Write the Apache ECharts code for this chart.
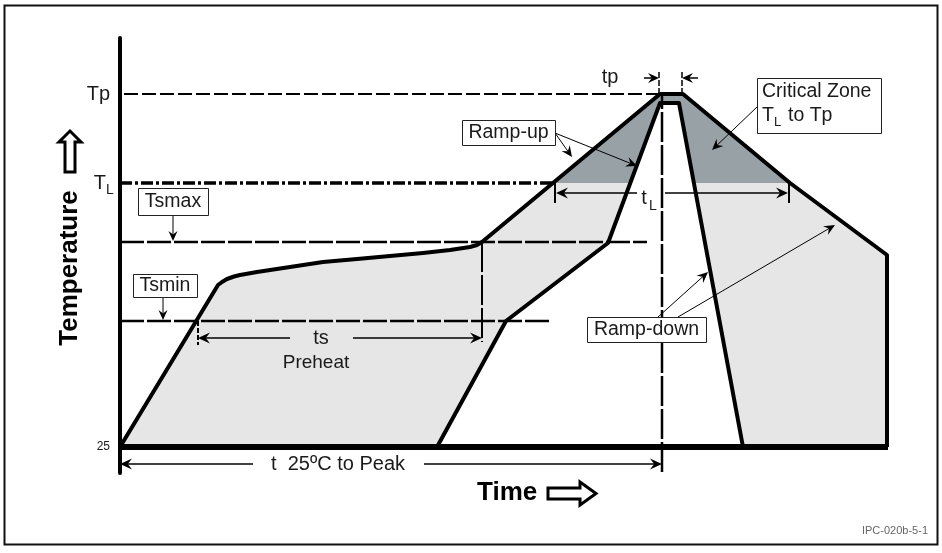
<!DOCTYPE html>
<html><head><meta charset="utf-8">
<script src="https://cdn.jsdelivr.net/npm/echarts@6/dist/echarts.min.js"></script>
<style>html,body{margin:0;padding:0;background:#fff}#c{width:942px;height:553px}</style>
</head><body><div id="c"></div>
<script>
// ---- schematic levels (abstract units; baseline = 25 °C) ----
const LEVEL_BASE = 0, LEVEL_TSMIN = 126, LEVEL_TSMAX = 205, LEVEL_TL = 264, LEVEL_TP = 353;
const levelLabels = ['Tp', 'T', 'L', '25'];

// ---- reflow profiles [time, temperature] ----
const outerProfile = [[0,0],[98,162],[102,165],[107,168],[114,170.5],[120,172],[137,175],[170,180],[203,185],[237,188],[270,191],[303,194],[330,197],[350,200],[357,202],[362,205],[540,353],[563,353],[670,264],[767,192],[767,0]];
const innerProfile = [[317,0],[386,126],[488,204],[540,344],[559,344],[623,0]];

// ---- times ----
const T_PEAK = 542, T_SOAK_START = 78, T_SOAK_END = 362, T_LIQ_START = 435, T_LIQ_END = 669;
const T_TP_START = 539, T_TP_END = 562;

// ---- annotation texts ----
const boxLabels = ['Tsmax', 'Tsmin', 'Ramp-up', 'Ramp-down'];
const criticalLines = ['Critical Zone', 'to Tp'];
const spanLabels = ['ts', 'Preheat', 'tp', 't', 't  25ºC to Peak'];
const axisTitles = ['Temperature', 'Time'];
const footnote = 'IPC-020b-5-1';

const FONT = "'Liberation Sans', Arial, sans-serif";
const LIGHT = '#e6e6e6', DARK = '#98a1a6', INK = '#1a1a1a';

function clipAbove(poly, lv) {
  const out = [];
  for (let i = 0; i < poly.length; i++) {
    const a = poly[i], b = poly[(i + 1) % poly.length];
    const ina = a[1] >= lv, inb = b[1] >= lv;
    if (ina) out.push(a);
    if (ina !== inb) { const t = (lv - a[1]) / (b[1] - a[1]); out.push([a[0] + t * (b[0] - a[0]), lv]); }
  }
  return out;
}

function renderAll(params, api) {
  const c = p => api.coord(p);
  const ch = [];
  const seg = (a, b, st) => { const p = c(a), q = c(b); ch.push({type:'line', shape:{x1:p[0],y1:p[1],x2:q[0],y2:q[1]}, style:Object.assign({stroke:'#000', lineWidth:1}, st)}); };
  const arrow = (a, b, w, head) => {
    const p = c(a), q = c(b);
    const dx = q[0]-p[0], dy = q[1]-p[1], L = Math.hypot(dx, dy), ux = dx/L, uy = dy/L, nx = -uy, ny = ux;
    const bx = q[0]-ux*head, by = q[1]-uy*head;
    ch.push({type:'line', shape:{x1:p[0],y1:p[1],x2:q[0]-ux*head*0.6,y2:q[1]-uy*head*0.6}, style:{stroke:'#000', lineWidth:w}});
    ch.push({type:'polygon', shape:{points:[[q[0],q[1]],[bx+nx*head*0.45,by+ny*head*0.45],[q[0]-ux*head*0.65,q[1]-uy*head*0.65],[bx-nx*head*0.45,by-ny*head*0.45]]}, style:{fill:'#000'}});
  };
  const text = (s, at, size, align, extra) => { const p = c(at); ch.push(Object.assign({type:'text', x:p[0], y:p[1], style:{text:s, fill:INK, font:size+'px '+FONT, align:align||'center', verticalAlign:'middle'}}, extra||{})); };
  const box = (tl, br) => { const p = c(tl), q = c(br); ch.push({type:'rect', shape:{x:Math.round(p[0])+0.5, y:Math.round(p[1])+0.5, width:Math.round(q[0]-p[0]), height:Math.round(q[1]-p[1])}, style:{fill:'#fff', stroke:'#222', lineWidth:1}}); };

  // fills
  ch.push({type:'polygon', shape:{points: outerProfile.map(c)}, style:{fill:LIGHT}});
  ch.push({type:'polygon', shape:{points: clipAbove(outerProfile, LEVEL_TL).map(c)}, style:{fill:DARK}});
  ch.push({type:'polygon', shape:{points: innerProfile.map(c)}, style:{fill:'#fff'}});

  // reference lines
  seg([4, LEVEL_TP], [T_PEAK - 2, LEVEL_TP], {lineWidth:1.8, lineDash:[14,4]});
  seg([0, LEVEL_TL], [433, LEVEL_TL], {lineWidth:3.5, lineDash:[12,3,3,3]});
  seg([0, LEVEL_TSMAX], [527, LEVEL_TSMAX], {lineWidth:2.5, lineDash:[24,3]});
  seg([0, LEVEL_TSMIN], [430, LEVEL_TSMIN], {lineWidth:2.5, lineDash:[24,3]});
  seg([T_PEAK, -25], [T_PEAK, LEVEL_TP], {lineWidth:2.5, lineDash:[30,3]});
  seg([T_SOAK_END, LEVEL_TSMAX], [T_SOAK_END, 105], {lineWidth:2, lineDash:[30,3]});
  seg([T_SOAK_START, LEVEL_TSMIN], [T_SOAK_START, 102], {lineWidth:2, lineDash:[5,2]});
  seg([T_TP_START, LEVEL_TP], [T_TP_START, 377], {lineWidth:1.5, lineDash:[6,2]});
  seg([T_TP_END, LEVEL_TP], [T_TP_END, 377], {lineWidth:1.5, lineDash:[6,2]});
  seg([T_LIQ_START, LEVEL_TL], [T_LIQ_START, 244], {lineWidth:2});
  seg([T_LIQ_END, LEVEL_TL], [T_LIQ_END, 244], {lineWidth:2});

  // profiles
  ch.push({type:'polyline', shape:{points: outerProfile.map(c)}, style:{stroke:'#000', lineWidth:4, fill:null, lineJoin:'round'}});
  ch.push({type:'polyline', shape:{points: innerProfile.map(c)}, style:{stroke:'#000', lineWidth:4, fill:null, lineJoin:'round'}});
  seg([0, LEVEL_BASE], [768, LEVEL_BASE], {lineWidth:6});

  // span arrows
  arrow([170,109], [T_SOAK_START,109], 1.5, 12); arrow([233,109], [T_SOAK_END,109], 1.5, 12);
  arrow([133,-17], [0,-17], 1.5, 12); arrow([304,-17], [T_PEAK,-17], 1.5, 12);
  arrow([517,254], [T_LIQ_START+1,254], 1.5, 12); arrow([545,254], [T_LIQ_END-1,254], 1.5, 12);
  arrow([524,369], [T_TP_START,369], 1.5, 11); arrow([578,369], [T_TP_END,369], 1.5, 11);
  // callout arrows
  arrow([53,232], [53,206], 1, 10); arrow([43,150], [43,127], 1, 10);
  arrow([435,314], [452,290], 1, 11); arrow([435,314], [517,281], 1, 11);
  arrow([637,340], [592,297], 1, 11);
  arrow([538,130], [588,175], 1, 11); arrow([558,130], [715,222], 1, 11);

  // boxes
  box([18,259],[88,232]); text(boxLabels[0], [53,245.5], 19.5);
  box([13,173],[77,150]); text(boxLabels[1], [45,161.5], 19.5);
  box([342,327],[435,302]); text(boxLabels[2], [388.5,314.5], 19.5);
  box([467,130],[586,105]); text(boxLabels[3], [526.5,117.5], 19.5);
  box([637,369],[761,314]);
  text(criticalLines[0], [642,355], 19.5, 'left');
  text(levelLabels[1], [642,331], 19.5, 'left');
  text(levelLabels[2], [654,325], 13, 'left');
  text(criticalLines[1], [668,331], 19.5, 'left');

  // level labels
  text(levelLabels[0], [-10, LEVEL_TP], 20, 'right');
  text(levelLabels[1], [-14, LEVEL_TL], 20, 'right');
  text(levelLabels[2], [-14, LEVEL_TL - 7], 14, 'left');
  text(levelLabels[3], [-10, LEVEL_BASE], 12, 'right');

  // span labels
  text(spanLabels[0], [201,109], 20);
  text(spanLabels[1], [196,84], 19);
  text(spanLabels[2], [490,370], 20);
  text(spanLabels[3], [524,249], 20);
  text(levelLabels[2], [533,241], 14);
  text(spanLabels[4], [218,-17], 20);

  // axis titles
  text(axisTitles[0], [-50,179], 26, 'center', {rotation: Math.PI/2, style:{text:axisTitles[0], fill:'#000', font:'bold 26px '+FONT, align:'center', verticalAlign:'middle'}});
  text(axisTitles[1], [357,-46], 26, 'left', {style:{text:axisTitles[1], fill:'#000', font:'bold 26px '+FONT, align:'left', verticalAlign:'middle'}});
  // hollow arrows
  ch.push({type:'polygon', shape:{points:[[-55,275],[-45,275],[-45,305],[-39,305],[-50,316],[-61,305],[-55,305]].map(c)}, style:{fill:'#fff', stroke:'#000', lineWidth:3}});
  ch.push({type:'polygon', shape:{points:[[428,-41],[460,-41],[460,-35],[476,-46.5],[460,-58],[460,-52],[428,-52]].map(c)}, style:{fill:'#fff', stroke:'#000', lineWidth:3}});

  text(footnote, [808,-84], 11, 'right', {style:{text:footnote, fill:'#666', font:'11px '+FONT, align:'right', verticalAlign:'middle'}});

  return {type:'group', children: ch};
}

const chart = echarts.init(document.getElementById('c'), null, {renderer:'canvas'});
chart.setOption({
  animation: false,
  backgroundColor: '#fff',
  grid: {left:120, right:52, top:38, bottom:80},
  xAxis: {type:'value', min:0, max:770, show:false},
  yAxis: {type:'value', min:-26, max:409, axisLine:{show:true, lineStyle:{color:'#000', width:4}}, axisTick:{show:false}, axisLabel:{show:false}, splitLine:{show:false}},
  graphic: [{type:'rect', shape:{x:4.5, y:5.5, width:933, height:539}, style:{fill:null, stroke:'#111', lineWidth:2}, z:100}],
  series: [{type:'custom', clip:false, data:[0], renderItem: renderAll, silent:true}]
});
</script></body></html>
